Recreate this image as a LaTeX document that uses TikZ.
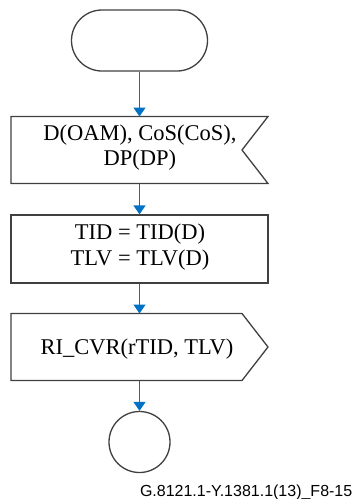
\documentclass[tikz,border=0pt]{standalone}
\usepackage{fontspec}
\setmainfont{Liberation Serif}
\newfontfamily\labelfont{Liberation Sans}
\usetikzlibrary{arrows.meta,shapes.misc}
\definecolor{linegray}{RGB}{64,64,64}
\definecolor{flowblue}{RGB}{0,114,198}
\tikzset{
  shapeline/.style={draw=linegray,line width=1.3pt},
  flowarrow/.style={draw=flowblue,line width=1.4pt,-{Triangle[width=12pt,length=9pt]}},
  boxtext/.style={font=\fontsize{22.5}{25.5}\selectfont,align=center,inner sep=0pt},
}
\begin{document}
\begin{tikzpicture}[x=1pt,y=-1pt]
\useasboundingbox (0,0) rectangle (353,499);
% start terminator
\node[rounded rectangle,shapeline,minimum width=136pt,minimum height=61pt,inner sep=0pt] (term) at (139.5,40.5) {};
% receive symbol
\draw[shapeline] (11,116.5) -- (268,116.5) -- (242,150) -- (268,183.5) -- (11,183.5) -- cycle;
\coordinate (rcvtop) at (139.5,116.5);
\coordinate (rcvbot) at (139.5,183.5);
\node[boxtext] (rcvtext) at (140,147.5) {D(OAM), CoS(CoS),\\DP(DP)};
% process box
\node[rectangle,shapeline,minimum width=257pt,minimum height=68pt,inner sep=0pt] (proc) at (139.5,249) {};
\node[boxtext] (proctext) at (140,247) {TID = TID(D)\\TLV = TLV(D)};
% send symbol
\draw[shapeline] (11,313.5) -- (242,313.5) -- (268,347) -- (242,380.5) -- (11,380.5) -- cycle;
\coordinate (sndtop) at (139.5,313.5);
\coordinate (sndbot) at (139.5,380.5);
\node[boxtext] (sndtext) at (137,349) {RI\_CVR(rTID, TLV)};
% end connector
\node[circle,shapeline,minimum size=61pt,inner sep=0pt] (endc) at (139.5,442) {};
% connectors
\draw[flowarrow] (term.south) -- (rcvtop);
\draw[flowarrow] (rcvbot) -- (proc.north);
\draw[flowarrow] (proc.south) -- (sndtop);
\draw[flowarrow] (sndbot) -- (endc.north);
% figure label
\node[anchor=base east,inner sep=0pt,font=\labelfont\fontsize{16}{18}\selectfont] (figlabel) at (352.5,496) {G.8121.1-Y.1381.1(13)\_F8-15};
\end{tikzpicture}
\end{document}
